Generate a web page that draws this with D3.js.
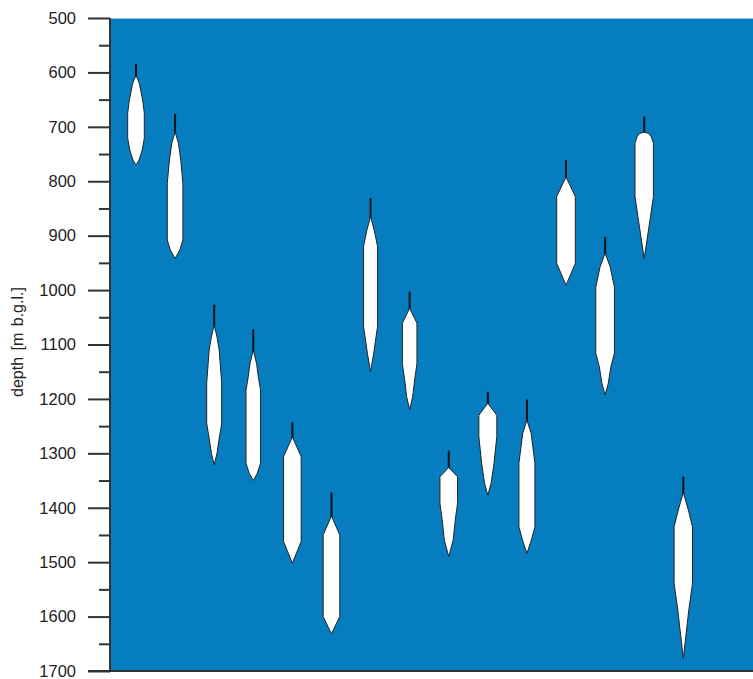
<!DOCTYPE html>
<html>
<head>
<meta charset="utf-8">
<script src="https://cdn.jsdelivr.net/npm/d3@7"></script>
<style>
  html, body { margin: 0; padding: 0; background: #fff; }
  svg { display: block; }
  text { font-family: "Liberation Sans", Arial, sans-serif; }
</style>
</head>
<body>
<svg id="chart" width="753" height="679"></svg>
<script>
// Depth axis ticks (m below ground level)
const majorTicks = [500, 600, 700, 800, 900, 1000, 1100, 1200, 1300, 1400, 1500, 1600, 1700];
const minorTicks = [550, 650, 750, 850, 950, 1050, 1150, 1250, 1350, 1450, 1550, 1650];

// One entry per well, left to right
const wellIndex = [0, 1, 2, 3, 4, 5, 6, 7, 8, 9, 10, 11, 12, 13, 14];

// Top of the thin stem (casing line) above each body, in m
const stemTop = [585, 676, 1027, 1072, 1243, 1372, 831, 1003, 1295, 1187, 1201, 761, 902, 681, 1343];

// Body outline: depths (m) down the body and the half-width at each depth
const bodyDepths = [
  [605, 620, 651, 675, 721, 743, 761, 770],
  [709, 730, 761, 804, 908, 926, 942],
  [1064, 1086, 1110, 1171, 1245, 1276, 1300, 1321],
  [1110, 1135, 1159, 1184, 1318, 1337, 1350],
  [1270, 1306, 1462, 1502],
  [1415, 1450, 1600, 1632],
  [865, 890, 920, 1067, 1092, 1116, 1150],
  [1033, 1061, 1135, 1165, 1196, 1220],
  [1326, 1343, 1392, 1423, 1459, 1490],
  [1208, 1230, 1269, 1318, 1355, 1377],
  [1239, 1263, 1318, 1435, 1459, 1484],
  [792, 828, 951, 991],
  [932, 957, 994, 1116, 1141, 1171, 1193],
  [710, 712, 718, 730, 828, 865, 908, 942],
  [1372, 1404, 1435, 1539, 1588, 1637, 1677]
];
const bodyWidths = [
  [0, 3.3, 6.7, 8.3, 8.3, 6.2, 3, 0],
  [0, 3.3, 5.7, 7.8, 7.8, 4.8, 0],
  [0, 2.8, 5, 7.5, 7.5, 4.7, 2.8, 0],
  [0, 3.3, 5, 7.3, 7.3, 4, 0],
  [0, 8.8, 8.8, 0],
  [0, 8.3, 8.3, 0],
  [0, 3.7, 7, 7, 5, 3.2, 0],
  [0, 7.3, 7.3, 5, 3, 0],
  [0, 8.8, 8.8, 6.5, 4.5, 0],
  [0, 9, 9, 6.2, 3.3, 0],
  [0, 4.2, 8, 8, 4.5, 0],
  [0, 9.3, 9.3, 0],
  [0, 5, 9.3, 9.3, 5.8, 3.2, 0],
  [0, 4.5, 7, 9.2, 9.2, 6.3, 2.8, 0],
  [0, 5, 9.2, 9.2, 5.5, 2.5, 0]
];

const svg = d3.select("#chart");
const plot = { left: 110, right: 753, top: 18, bottom: 671 };

const y = d3.scaleLinear().domain([500, 1700]).range([plot.top, plot.bottom]);
const x = d3.scaleLinear().domain([0, 14]).range([136, 683.3]);
const w = d3.scaleLinear().domain([0, 10]).range([0, 10]);

// Background panel
svg.append("rect")
  .attr("x", plot.left).attr("y", plot.top)
  .attr("width", plot.right - plot.left).attr("height", plot.bottom - plot.top)
  .attr("fill", "#067dbf");
svg.append("line")
  .attr("x1", plot.left).attr("x2", plot.right)
  .attr("y1", plot.top + 0.5).attr("y2", plot.top + 0.5)
  .attr("stroke", "#8cc4e6").attr("stroke-width", 1);

// Wells: stem line, then the white body outline
const wellG = svg.append("g");
wellIndex.forEach(i => {
  const cx = x(i);
  const ds = bodyDepths[i], ws = bodyWidths[i];
  const right = ds.map((d, k) => [cx + w(ws[k]), y(d)]);
  const left = ds.map((d, k) => [cx - w(ws[k]), y(d)]).reverse();
  const pts = right.concat(left);
  wellG.append("line")
    .attr("x1", cx).attr("x2", cx)
    .attr("y1", y(stemTop[i])).attr("y2", y(ds[0]) + 2)
    .attr("stroke", "#111").attr("stroke-width", 2);
  wellG.append("path")
    .attr("d", d3.line()(pts) + "Z")
    .attr("fill", "#fff")
    .attr("stroke", "#222")
    .attr("stroke-width", 1)
    .attr("stroke-linejoin", "round");
});

// Depth axis
const axisG = svg.append("g").attr("transform", `translate(${plot.left},0)`);
axisG.call(d3.axisLeft(y).tickValues(majorTicks).tickSize(22).tickPadding(12).tickFormat(d3.format("d")));
axisG.append("g").call(d3.axisLeft(y).tickValues(minorTicks).tickSize(11).tickFormat(""));
axisG.selectAll(".domain").remove();
axisG.selectAll("line").attr("stroke", "#333").attr("stroke-width", 2);
axisG.selectAll("text").attr("font-size", 16.5).attr("fill", "#222");

svg.append("line")
  .attr("x1", plot.left).attr("x2", plot.left)
  .attr("y1", plot.top).attr("y2", plot.bottom + 1)
  .attr("stroke", "#333").attr("stroke-width", 2);
svg.append("line")
  .attr("x1", plot.left - 22).attr("x2", plot.right)
  .attr("y1", plot.bottom).attr("y2", plot.bottom)
  .attr("stroke", "#333").attr("stroke-width", 2);

// Axis title
svg.append("text")
  .attr("transform", `translate(23,342) rotate(-90)`)
  .attr("text-anchor", "middle")
  .attr("font-size", 16)
  .attr("word-spacing", 2)
  .attr("fill", "#222")
  .text("depth  [m b.g.l.]");
</script>
</body>
</html>
